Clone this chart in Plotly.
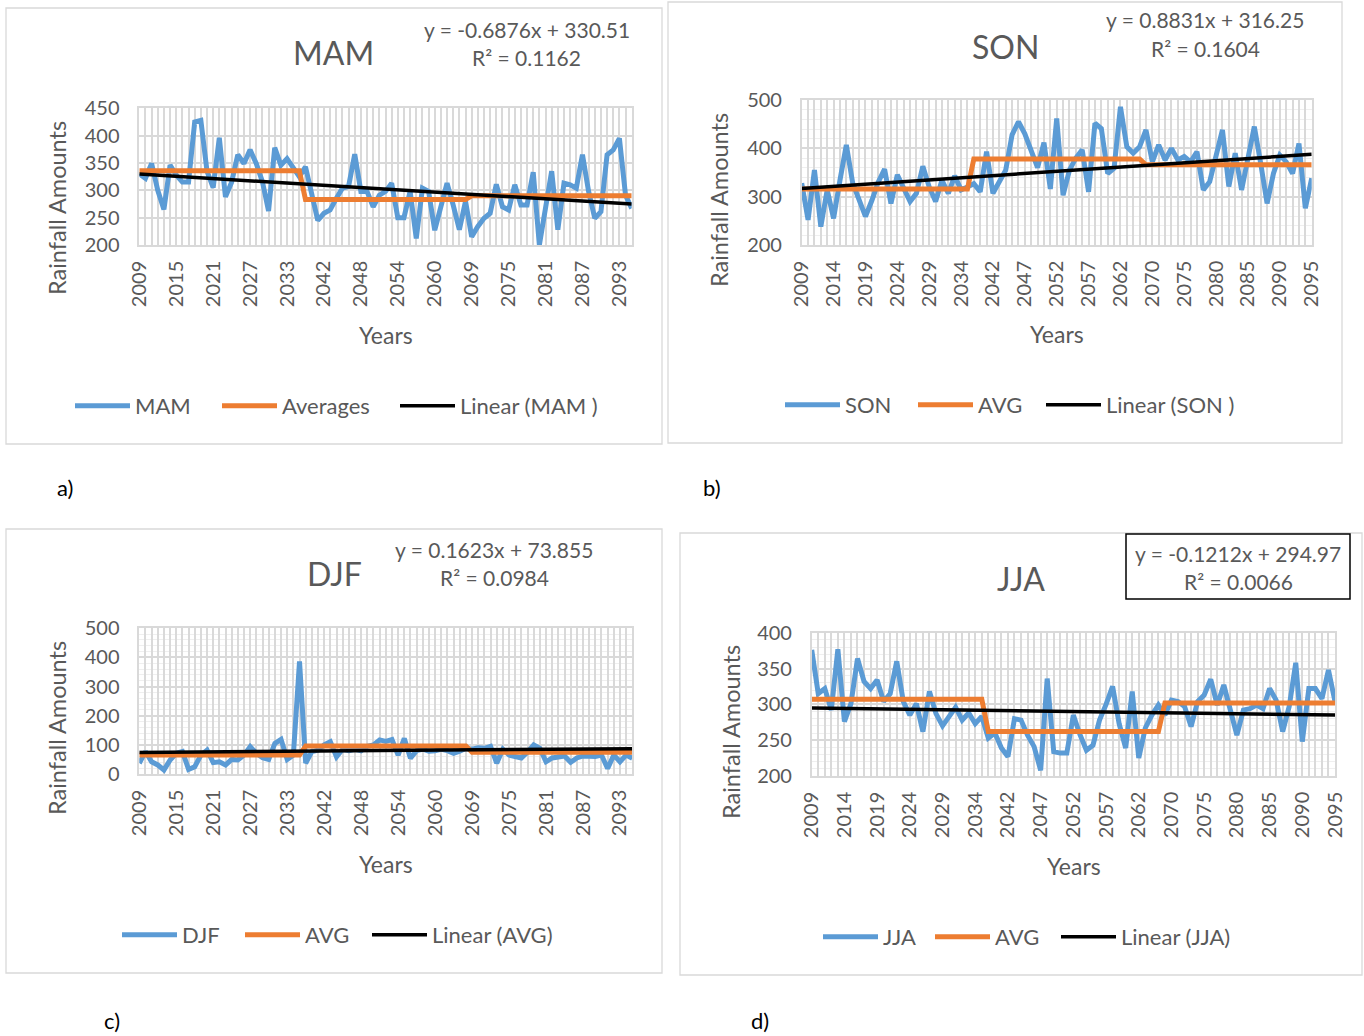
import plotly.graph_objects as go

# ---------------- data ----------------
years = [str(y) for y in list(range(2009, 2036)) + list(range(2039, 2066)) + list(range(2069, 2096))]
period_lengths = [27, 27, 27]

mam = [330, 322, 349, 300, 265, 346, 328, 315, 315, 425, 428, 335, 305, 396, 288, 315, 365, 349, 374, 349,
       316, 262, 378, 346, 358, 340, 325, 343, 292, 245, 258, 264, 285, 304, 307, 366, 298, 298, 270, 291,
       298, 313, 250, 250, 298, 212, 304, 298, 227, 273, 313, 273, 228, 280, 215, 234, 249, 258, 311, 270,
       264, 310, 273, 273, 333, 200, 270, 335, 228, 313, 310, 304, 365, 298, 249, 261, 365, 374, 395, 291, 267]
mam_avg_levels = [336, 283, 290]
mam_trend = (-0.6876, 330.51)

son = [328, 252, 355, 238, 314, 255, 334, 407, 328, 293, 259, 292, 330, 357, 286, 345, 320, 290, 307, 363,
       320, 290, 334, 307, 343, 314, 320, 327, 310, 393, 307, 331, 355, 428, 455, 430, 395, 360, 412, 316,
       462, 303, 355, 380, 397, 310, 452, 441, 348, 359, 486, 403, 390, 403, 438, 372, 407, 376, 400, 376,
       383, 372, 393, 314, 331, 383, 438, 321, 390, 314, 383, 445, 369, 286, 348, 386, 372, 348, 410, 276, 338]
son_avg_levels = [316, 378, 366]
son_trend = (0.8831, 316.25)

djf = [37, 77, 42, 31, 14, 48, 71, 77, 16, 25, 65, 82, 39, 42, 31, 50, 48, 65, 94, 71,
       56, 50, 105, 119, 50, 65, 386, 37, 77, 82, 100, 111, 59, 85, 80, 85, 80, 95, 100, 117,
       112, 118, 65, 122, 54, 80, 85, 78, 80, 85, 80, 71, 78, 88, 85, 90, 88, 95, 37, 85,
       65, 60, 55, 75, 100, 88, 42, 55, 60, 62, 40, 55, 62, 60, 60, 65, 19, 65, 42, 65, 54]
djf_avg_levels = [65, 96, 75]
djf_trend = (0.1623, 73.855)

jja = [376, 315, 322, 292, 377, 276, 301, 364, 332, 322, 334, 304, 315, 360, 304, 285, 301, 262, 318, 287,
       270, 283, 296, 278, 288, 273, 283, 253, 260, 239, 227, 280, 278, 257, 241, 208, 336, 234, 232, 232,
       285, 258, 236, 243, 278, 300, 325, 273, 239, 318, 225, 267, 285, 299, 285, 306, 304, 297, 269, 304,
       313, 335, 299, 327, 294, 257, 292, 294, 299, 294, 322, 306, 262, 297, 358, 248, 322, 322, 308, 348, 304]
jja_avg_levels = [307, 262, 302]
jja_trend = (-0.1212, 294.97)

# ---------------- style ----------------
W, H = 1364, 1036
BLUE, ORANGE, BLACK = "#5B9BD5", "#ED7D31", "#000000"
TXT = "#595959"
GRID = "#D9D9D9"
MINOR = "#EFEFEF"
FONT = "Lato"


def px(x):
    return x / W


def py(y):
    return 1 - y / H


def expand(levels):
    out = []
    for lv, n in zip(levels, period_lengths):
        out += [lv] * n
    return out


def trend_line(coef, n):
    a, b = coef
    return [a * (i + 1) + b for i in range(n)]


panels = [
    dict(data=mam, avg=mam_avg_levels, trend=mam_trend,
         names=("MAM", "Averages", "Linear (MAM )"), title="MAM",
         eq="y = -0.6876x + 330.51", r2="R² = 0.1162",
         plot=(139.3, 108.3, 631.7, 245.0), yr=(200, 450), dtick=50, minor=None, every=6,
         box=(6, 8, 662, 444), title_xy=(333, 52), eq_xy=(527, 29), r2_xy=(526, 57),
         ytitle_xy=(57, 208), xtitle_xy=(386, 335), legend_x=(75, 222, 400), legend_y=406),
    dict(data=son, avg=son_avg_levels, trend=son_trend,
         names=("SON", "AVG", "Linear (SON )"), title="SON",
         eq="y = 0.8831x + 316.25", r2="R² = 0.1604",
         plot=(801.7, 100.0, 1311.7, 245.0), yr=(200, 500), dtick=100, minor=20, every=5,
         box=(668, 2, 1342, 443), title_xy=(1005, 46), eq_xy=(1205, 20), r2_xy=(1205, 49),
         ytitle_xy=(719, 200), xtitle_xy=(1057, 334), legend_x=(785, 918, 1046), legend_y=405),
    dict(data=djf, avg=djf_avg_levels, trend=djf_trend,
         names=("DJF", "AVG", "Linear (AVG)"), title="DJF",
         eq="y = 0.1623x + 73.855", r2="R² = 0.0984",
         plot=(139.3, 628.3, 632.3, 774.0), yr=(0, 500), dtick=100, minor=20, every=6,
         box=(6, 529, 662, 973), title_xy=(334, 573), eq_xy=(494, 549), r2_xy=(494, 577),
         ytitle_xy=(57, 728), xtitle_xy=(386, 864), legend_x=(122, 245, 372), legend_y=935),
    dict(data=jja, avg=jja_avg_levels, trend=jja_trend,
         names=("JJA", "AVG", "Linear (JJA)"), title="JJA",
         eq="y = -0.1212x + 294.97", r2="R² = 0.0066",
         plot=(811.7, 632.7, 1335.0, 776.0), yr=(200, 400), dtick=50, minor=10, every=5,
         box=(680, 533, 1362, 975), title_xy=(1021, 578), eq_xy=(1238, 553), r2_xy=(1238, 581),
         ytitle_xy=(731, 732), xtitle_xy=(1074, 866), legend_x=(823, 935, 1061), legend_y=937),
]

fig = go.Figure()
annotations = []
shapes = []
layout = {}


def ann(text, xy, size, color=TXT, angle=0):
    annotations.append(dict(text=text, x=px(xy[0]), y=py(xy[1]), xref="paper", yref="paper",
                            xanchor="center", yanchor="middle", showarrow=False, textangle=angle,
                            font=dict(size=size, color=color, family=FONT)))


legend_count = 0
for k, p in enumerate(panels):
    sfx = "" if k == 0 else str(k + 1)
    xa, ya = "x" + sfx, "y" + sfx
    n = len(p["data"])
    series = [
        (p["data"], BLUE, 5),
        (expand(p["avg"]), ORANGE, 5),
        (trend_line(p["trend"], n), BLACK, 3.5),
    ]
    for j, (yv, col, lw) in enumerate(series):
        legend_count += 1
        lg = "legend" if legend_count == 1 else "legend%d" % legend_count
        fig.add_trace(go.Scatter(x=years, y=yv, mode="lines", name=p["names"][j], showlegend=True,
                                 line=dict(color=col, width=lw), xaxis=xa, yaxis=ya, legend=lg))
        layout[lg] = dict(orientation="h", x=px(p["legend_x"][j] - 5), y=py(p["legend_y"]),
                          xanchor="left", yanchor="middle", itemwidth=55, visible=True,
                          font=dict(size=22, color=TXT, family=FONT), bgcolor="rgba(0,0,0,0)")

    x0, y0, x1, y1 = p["plot"]
    ticktext = [yv if i % p["every"] == 0 else "" for i, yv in enumerate(years)]
    layout["xaxis" + sfx] = dict(
        type="category", categoryorder="array", categoryarray=years,
        range=[0, n - 1], domain=[px(x0), px(x1)], anchor=ya,
        tickmode="array", tickvals=years, ticktext=ticktext, tickangle=-90,
        tickfont=dict(size=20, color=TXT, family=FONT), ticks="",
        showgrid=True, gridcolor=GRID, gridwidth=1.5,
        showline=True, linecolor=GRID, linewidth=1.5, mirror=True, zeroline=False,
        ticklabelstandoff=6, automargin=False,
    )
    yax = dict(
        range=list(p["yr"]), tick0=p["yr"][0], dtick=p["dtick"],
        domain=[py(y1), py(y0)], anchor=xa,
        tickfont=dict(size=20, color=TXT, family=FONT), ticks="",
        showgrid=True, gridcolor=GRID, gridwidth=1.5,
        showline=True, linecolor=GRID, linewidth=1.5, mirror=True, zeroline=False,
        ticklabelstandoff=14, automargin=False,
    )
    if p["minor"]:
        yax["minor"] = dict(dtick=p["minor"], tick0=p["yr"][0], showgrid=True, gridcolor=MINOR, gridwidth=1)
    layout["yaxis" + sfx] = yax

    bx0, by0, bx1, by1 = p["box"]
    shapes.append(dict(type="rect", xref="paper", yref="paper", x0=px(bx0), x1=px(bx1),
                       y0=py(by1), y1=py(by0), line=dict(color=GRID, width=1.3), layer="below"))

    ann(p["title"], p["title_xy"], 32)
    ann(p["eq"], p["eq_xy"], 21)
    ann(p["r2"], p["r2_xy"], 21)
    ann("Rainfall Amounts", p["ytitle_xy"], 23.5, angle=-90)
    ann("Years", p["xtitle_xy"], 23)

# equation box of panel d
shapes.append(dict(type="rect", xref="paper", yref="paper", x0=px(1126), x1=px(1350),
                   y0=py(599), y1=py(534), line=dict(color="#000000", width=1.5)))

for lab, xy in [("a)", (65, 488)), ("b)", (712, 488)), ("c)", (112, 1020)), ("d)", (760, 1020))]:
    ann(lab, xy, 22, color="#000000")

fig.update_layout(
    width=W, height=H, margin=dict(l=0, r=0, t=0, b=0, pad=0, autoexpand=False),
    paper_bgcolor="white", plot_bgcolor="white", showlegend=True,
    font=dict(family=FONT, color=TXT),
    annotations=annotations, shapes=shapes, **layout,
)

fig.write_html("out.html", post_script="document.body.style.margin='0';document.body.style.padding='0';")
